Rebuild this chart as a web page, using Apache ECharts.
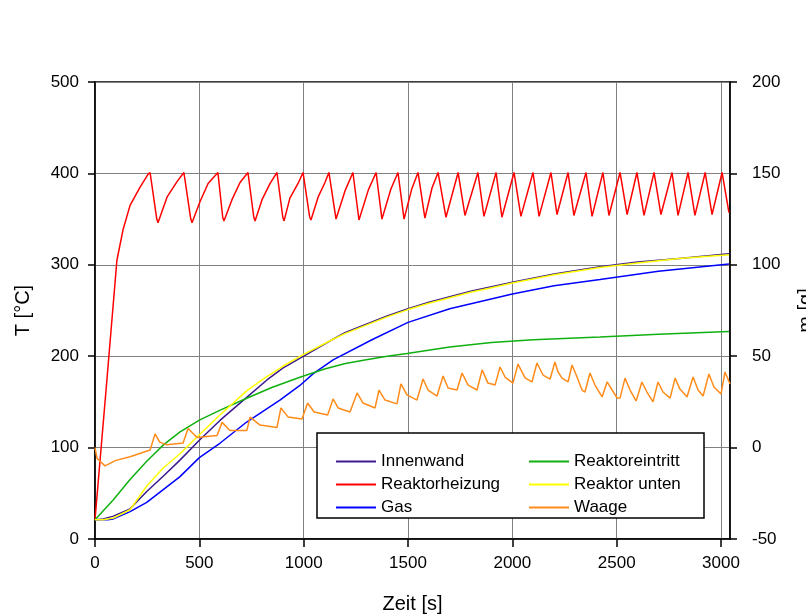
<!DOCTYPE html>
<html>
<head>
<meta charset="utf-8">
<script src="https://cdn.jsdelivr.net/npm/echarts@6/dist/echarts.min.js"></script>
<style>
  html, body { margin: 0; padding: 0; background: #fff; }
  #chart { width: 806px; height: 614px; }
</style>
</head>
<body>
<div id="chart"></div>
<script>
// Zeit [s] / Temperatur [°C] pairs
const innenwand = [
  [0, 21], [40, 22], [88, 25], [168, 33], [248, 52], [328, 69], [406, 86], [500, 108],
  [600, 130], [727, 155], [824, 174], [900, 187], [1000, 200], [1136, 218], [1200, 226],
  [1300, 235], [1400, 244], [1500, 252], [1600, 259], [1700, 265], [1800, 271], [1900, 276],
  [2000, 281], [2200, 290], [2420, 298], [2600, 303], [2800, 307], [3038, 312]
]

const reaktorheizung = [
  [0, 21], [57, 174], [105, 305], [134, 338], [168, 365], [216, 385], [254, 399], [264, 401],
  [296, 350], [302, 346], [345, 374], [393, 391], [426, 401],
  [459, 350], [465, 346], [503, 369], [542, 389], [589, 401],
  [612, 352], [618, 348], [656, 371], [695, 390], [733, 401],
  [761, 352], [767, 348], [800, 371], [839, 389], [872, 401],
  [900, 352], [906, 348], [934, 373], [973, 389], [997, 401],
  [1029, 352], [1035, 349], [1069, 374], [1102, 390], [1121, 401],
  [1155, 350], [1200, 382], [1236, 401],
  [1265, 349], [1310, 382], [1347, 401],
  [1375, 350], [1418, 383], [1452, 401],
  [1481, 350], [1518, 383], [1548, 401],
  [1581, 351], [1615, 384], [1644, 401],
  [1682, 352], [1740, 401], [1773, 354], [1835, 401], [1864, 353], [1922, 401],
  [1950, 352], [2008, 401], [2041, 353], [2099, 401], [2128, 353], [2185, 401],
  [2214, 355], [2267, 401], [2295, 354], [2353, 401], [2382, 353], [2434, 401],
  [2463, 354], [2516, 401], [2550, 355], [2597, 401], [2631, 354], [2679, 401],
  [2712, 355], [2765, 401], [2794, 354], [2842, 401], [2875, 354], [2924, 401],
  [2957, 355], [3005, 401], [3038, 357]
]

const gas = [
  [0, 21], [60, 21], [88, 22], [168, 30], [248, 40], [406, 68], [500, 89], [600, 105],
  [727, 128], [886, 152], [982, 168], [1046, 181], [1141, 196], [1327, 218], [1500, 237],
  [1700, 252], [2000, 268], [2200, 277], [2420, 284], [2700, 293], [3038, 301]
]

const reaktoreintritt = [
  [0, 21], [88, 43], [168, 65], [248, 85], [328, 103], [406, 117], [500, 130], [600, 141],
  [727, 154], [850, 166], [982, 177], [1100, 186], [1200, 192], [1300, 196], [1400, 200],
  [1495, 203], [1700, 210], [1900, 215], [2100, 218], [2420, 221], [2700, 224], [3038, 227]
]

const reaktorUnten = [
  [0, 21], [40, 21], [88, 23], [168, 32], [248, 58], [328, 78], [406, 93], [500, 114],
  [600, 136], [727, 162], [800, 174], [900, 189], [1000, 202], [1136, 218], [1200, 225],
  [1300, 234], [1400, 243], [1500, 251], [1600, 258], [1700, 264], [1800, 270], [1900, 275],
  [2000, 280], [2200, 289], [2420, 297], [2600, 302], [2800, 307], [3038, 311]
]

// Zeit [s] / Masse [g] pairs (right axis)
const waage = [
  [0, 0], [10, -6], [48, -10], [100, -7], [168, -5], [264, -1.3], [288, 7.5], [310, 3],
  [345, 1.5], [422, 2.5], [446, 10.5], [489, 5.5], [585, 6.6], [609, 13.8], [647, 9.4],
  [728, 9.4], [743, 16.7], [791, 12.3], [872, 11], [891, 21.7], [925, 16.8], [992, 15.6],
  [1019, 24.4], [1050, 19.5], [1115, 17.8], [1141, 26.6], [1165, 21.7], [1222, 19.5],
  [1256, 29.9], [1284, 24.4], [1342, 21.7], [1361, 31.5], [1390, 26], [1447, 23.9],
  [1466, 34.8], [1495, 28.8], [1543, 26], [1572, 37.5], [1596, 31.5], [1639, 28.2],
  [1668, 39.2], [1692, 32.6], [1735, 31.5], [1759, 40.8], [1788, 34.2], [1831, 31.5],
  [1855, 42.5], [1883, 35.3], [1917, 34.2], [1941, 44.1], [1965, 38.6], [2003, 35.3],
  [2027, 45.7], [2061, 38.1], [2094, 35.9], [2118, 46.3], [2147, 39.7], [2181, 37.5],
  [2204, 46.8], [2219, 41.4], [2238, 38], [2267, 35.9], [2286, 45.2], [2310, 38.6],
  [2334, 31.5], [2348, 30.4], [2372, 40.8], [2396, 34.2], [2430, 27.7], [2454, 35.9],
  [2478, 31.5], [2502, 27.1], [2516, 27.1], [2540, 38], [2564, 31.5], [2593, 25.5],
  [2621, 35.9], [2645, 30.4], [2674, 25], [2698, 35.9], [2722, 30.4], [2756, 27.1],
  [2780, 38], [2803, 32], [2837, 27.7], [2866, 38.6], [2890, 31.5], [2914, 28.2],
  [2942, 40.3], [2966, 33.2], [3000, 29.3], [3019, 41.4], [3043, 34.8]
]

const seriesNames = ['Innenwand', 'Reaktorheizung', 'Gas', 'Reaktoreintritt', 'Reaktor unten', 'Waage']
const seriesColors = ['#3c1a8e', '#ff0000', '#0000ff', '#10b010', '#ffff00', '#ff8c1a']
const seriesData = [innenwand, reaktorheizung, gas, reaktoreintritt, reaktorUnten, waage]

const font = 'Liberation Sans, Arial, sans-serif'
const chart = echarts.init(document.getElementById('chart'))

const legendText = { color: '#000', fontSize: 17, fontFamily: font }
const plain = v => String(v)

const option = {
  animation: false,
  backgroundColor: '#fff',
  grid: {
    left: 95, right: 76, top: 82, bottom: 75,
    containLabel: false, outerBoundsMode: 'none',
    show: true, borderColor: '#000', borderWidth: 1.5, backgroundColor: 'transparent'
  },
  legend: [
    {
      orient: 'vertical', left: 330, top: 448, z: 10,
      itemWidth: 40, itemHeight: 14, itemGap: 6,
      itemStyle: { opacity: 0 },
      textStyle: legendText,
      data: seriesNames.slice(0, 3)
    },
    {
      orient: 'vertical', left: 523, top: 448, z: 10,
      itemWidth: 40, itemHeight: 14, itemGap: 6,
      itemStyle: { opacity: 0 },
      textStyle: legendText,
      data: seriesNames.slice(3)
    }
  ],
  graphic: [{
    type: 'rect', z: 5,
    shape: { x: 317, y: 433, width: 387, height: 85 },
    style: { fill: '#fff', stroke: '#000', lineWidth: 1.5 }
  }],
  xAxis: {
    type: 'value', min: 0, max: 3043, interval: 500,
    name: 'Zeit [s]', nameLocation: 'middle', nameGap: 55,
    nameTextStyle: { color: '#000', fontSize: 20, fontFamily: font },
    axisLine: { show: true, lineStyle: { color: '#000', width: 1.5 } },
    axisTick: { show: true, inside: false, length: 8, lineStyle: { color: '#000', width: 1.5 } },
    axisLabel: { color: '#000', fontSize: 17, fontFamily: font, margin: 16, showMaxLabel: false, formatter: plain },
    splitLine: { show: true, lineStyle: { color: '#808080', width: 1 } }
  },
  yAxis: [
    {
      type: 'value', min: 0, max: 500, interval: 100, position: 'left',
      name: 'T [°C]', nameLocation: 'middle', nameGap: 62, nameRotate: 90,
      nameTextStyle: { color: '#000', fontSize: 20, fontFamily: font },
      axisLine: { show: true, lineStyle: { color: '#000', width: 1.5 } },
      axisTick: { show: true, inside: false, length: 7, lineStyle: { color: '#000', width: 1.5 } },
      axisLabel: { color: '#000', fontSize: 17, fontFamily: font, margin: 16, formatter: plain },
      splitLine: { show: true, lineStyle: { color: '#808080', width: 1 } }
    },
    {
      type: 'value', min: -50, max: 200, interval: 50, position: 'right',
      name: 'm [g]', nameLocation: 'middle', nameGap: 66, nameRotate: 90,
      nameTextStyle: { color: '#000', fontSize: 20, fontFamily: font },
      axisLine: { show: true, lineStyle: { color: '#000', width: 1.5 } },
      axisTick: { show: true, inside: false, length: 7, lineStyle: { color: '#000', width: 1.5 } },
      axisLabel: { color: '#000', fontSize: 17, fontFamily: font, margin: 22, formatter: plain },
      splitLine: { show: false }
    }
  ],
  series: seriesNames.map((name, i) => ({
    name,
    type: 'line',
    yAxisIndex: name === 'Waage' ? 1 : 0,
    data: seriesData[i],
    symbol: 'none',
    z: 2,
    color: seriesColors[i],
    lineStyle: { color: seriesColors[i], width: 1.5 }
  }))
}

chart.setOption(option)
</script>
</body>
</html>
